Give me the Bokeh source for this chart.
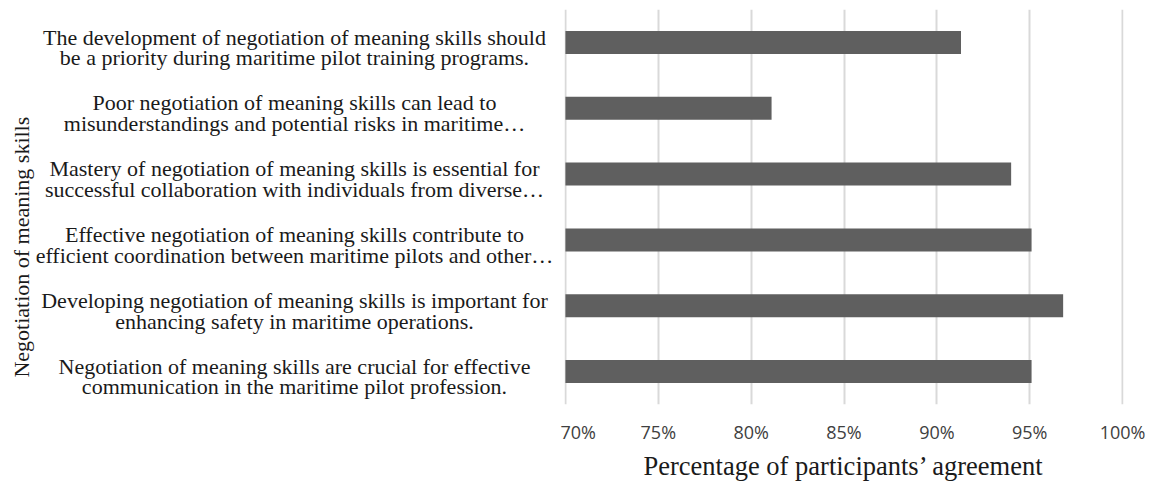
from math import pi
from bokeh.plotting import figure
from bokeh.layouts import row
from bokeh.models import (ColumnDataSource, FixedTicker, Label,
                          PrintfTickFormatter, Range1d, FactorRange)
from bokeh.core.properties import value
from bokeh.embed import file_html
from bokeh.resources import INLINE

# ---- data (top to bottom as shown) ----
statements = [
    "The development of negotiation of meaning skills should\nbe a priority during maritime pilot training programs.",
    "Poor negotiation of meaning skills can lead to\nmisunderstandings and potential risks in maritime\u2026",
    "Mastery of negotiation of meaning skills is essential for\nsuccessful collaboration with individuals from diverse\u2026",
    "Effective negotiation of meaning skills contribute to\nefficient coordination between maritime pilots and other\u2026",
    "Developing negotiation of meaning skills is important for\nenhancing safety in maritime operations.",
    "Negotiation of meaning skills are crucial for effective\ncommunication in the maritime pilot profession.",
]
agreement = [91.3, 81.1, 94.0, 95.1, 96.8, 95.1]
x_ticks = [70, 75, 80, 85, 90, 95, 100]
x_title = "Percentage of participants\u2019 agreement"
y_title = "Negotiation of meaning skills"

SERIF = "Liberation Serif"
SANS = "Open Sans"
TXT = "#1a1a1a"

src = ColumnDataSource(dict(cat=statements, val=agreement,
                            base=[x_ticks[0]] * len(statements)))
y_range = FactorRange(factors=list(reversed(statements)))

# ---------- left panel: category labels + y-axis title ----------
LW = 560
lp = figure(width=LW, height=483, output_backend="svg", toolbar_location=None,
            x_range=Range1d(0, LW), y_range=y_range,
            min_border_left=0, min_border_right=0, min_border_top=9,
            min_border_bottom=79)
lp.axis.visible = False
lp.grid.visible = False
lp.outline_line_color = None
lp.text(x=294, y="cat", text="cat", source=src, y_offset=5,
        text_align="center", text_baseline="middle",
        text_font=value(SERIF), text_font_size="22px",
        text_line_height=0.83, text_color=TXT)
lp.add_layout(Label(x=21, y=2.39, text=y_title, angle=pi / 2,
                    text_align="center", text_baseline="middle",
                    text_font=SERIF, text_font_size="22px", text_color=TXT))

# ---------- main bar chart ----------
pad = 0.05
p = figure(width=587, height=483, output_backend="svg", toolbar_location=None,
           x_range=Range1d(x_ticks[0] - pad, x_ticks[-1] + pad),
           y_range=y_range,
           min_border_left=4, min_border_right=24, min_border_top=9,
           min_border_bottom=79)

p.hbar(y="cat", left="base", right="val", height=0.35, source=src,
       fill_color="#5f5f5f", line_color=None)

p.outline_line_color = None
p.background_fill_color = "white"
p.border_fill_color = "white"

p.ygrid.grid_line_color = None
p.xgrid.grid_line_color = "#d9d9d9"
p.xgrid.grid_line_width = 2
p.yaxis.visible = False

xa = p.xaxis[0]
xa.ticker = FixedTicker(ticks=x_ticks)
xa.formatter = PrintfTickFormatter(format="%d%%")
xa.axis_line_color = None
xa.major_tick_line_color = None
xa.minor_tick_line_color = None
xa.major_tick_out = 0
xa.major_tick_in = 0
xa.major_label_standoff = 15
xa.major_label_text_font = SANS
xa.major_label_text_font_size = "18px"
xa.major_label_text_color = "#404040"
xa.axis_label = x_title
xa.axis_label_text_font = SERIF
xa.axis_label_text_font_style = "normal"
xa.axis_label_text_font_size = "26.5px"
xa.axis_label_text_color = TXT
xa.axis_label_standoff = 4

layout = row(lp, p)
open("out.html", "w").write(file_html(layout, INLINE))
